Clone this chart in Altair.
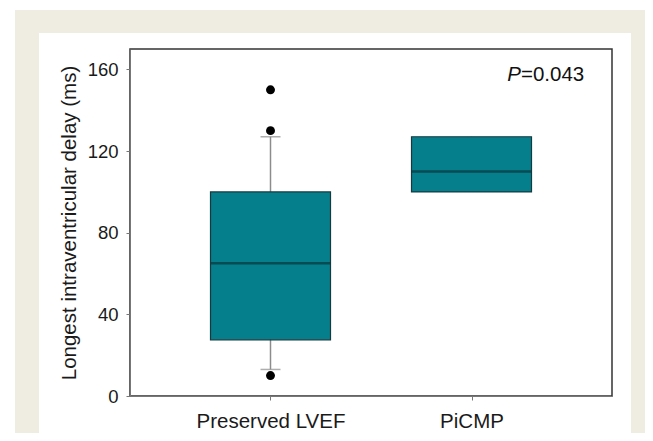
import altair as alt
import pandas as pd

# Data
groups = ["Preserved LVEF", "PiCMP"]
q1 = [27.5, 100]
median = [65, 110]
q3 = [100, 127]
whisker_low = [13, 100]
whisker_high = [127, 127]

outlier_groups = ["Preserved LVEF", "Preserved LVEF", "Preserved LVEF"]
outlier_values = [150, 130, 10]

y_ticks = [0, 40, 80, 120, 160]
p_label = "P"
p_value = "=0.043"

FONT = "Liberation Sans"
W, H = 482, 347
BOX_FILL = "#047f8b"
BOX_STROKE = "#163a40"
MEDIAN = "#0c353b"
WHISK = "#8c8c8c"

box_df = pd.DataFrame({
    "group": groups, "q1": q1, "median": median, "q3": q3,
    "lo": whisker_low, "hi": whisker_high,
})
out_df = pd.DataFrame({"group": outlier_groups, "value": outlier_values})

# caps only where a whisker extends beyond the box
cap_rows = []
for g, lo, hi, a, b in zip(groups, whisker_low, whisker_high, q1, q3):
    if lo < a:
        cap_rows.append({"group": g, "v": lo})
    if hi > b:
        cap_rows.append({"group": g, "v": hi})
cap_df = pd.DataFrame(cap_rows)

xscale = alt.Scale(domain=groups, type="point", padding=0.699)
yscale = alt.Scale(domain=[0, 170], nice=False, zero=True)

x_enc = alt.X("group:N", scale=xscale, sort=groups,
              axis=alt.Axis(title=None, labelFontSize=20.5, labelFont=FONT,
                            labelColor="#1a1a1a", labelPadding=11, tickSize=4,
                            tickColor="#777777", domainColor="#777777",
                            labelAngle=0, grid=False, zindex=1))
y_axis = alt.Axis(title="Longest intraventricular delay (ms)", values=y_ticks,
                  labelFontSize=18.5, labelFont=FONT, labelColor="#1a1a1a",
                  labelPadding=8, tickSize=4, tickColor="#777777",
                  domainColor="#777777", grid=False, titleFont=FONT,
                  titleFontSize=20.5, titleFontWeight="normal", titleColor="#1a1a1a",
                  titlePadding=8, zindex=1)

one = alt.Data(values=[{}])

beige = alt.Chart(one).mark_rect(color="#efede1").encode(
    x=alt.value(-115), x2=alt.value(W + 33), y=alt.value(-39), y2=alt.value(H + 37))
white = alt.Chart(one).mark_rect(color="#ffffff").encode(
    x=alt.value(-91), x2=alt.value(W + 19), y=alt.value(-16), y2=alt.value(H + 37))
plotbg = alt.Chart(one).mark_rect(color="#ffffff", stroke="#333333", strokeWidth=1.5).encode(
    x=alt.value(0), x2=alt.value(W), y=alt.value(0), y2=alt.value(H))

base = alt.Chart(box_df)
whiskers = base.mark_rule(color=WHISK, strokeWidth=1.5).encode(
    x=x_enc, y=alt.Y("lo:Q", scale=yscale, axis=y_axis), y2="hi:Q")
caps = alt.Chart(cap_df).mark_tick(color=WHISK, size=20, thickness=1.5, orient="horizontal").encode(
    x=alt.X("group:N", scale=xscale, sort=groups), y=alt.Y("v:Q", scale=yscale))
boxes = base.mark_bar(size=120, color=BOX_FILL, stroke=BOX_STROKE, strokeWidth=1.2).encode(
    x=alt.X("group:N", scale=xscale, sort=groups), y=alt.Y("q1:Q", scale=yscale), y2="q3:Q")
medians = base.mark_tick(color=MEDIAN, size=120, thickness=2.6, orient="horizontal").encode(
    x=alt.X("group:N", scale=xscale, sort=groups), y=alt.Y("median:Q", scale=yscale))
outliers = alt.Chart(out_df).mark_circle(color="#000000", size=80, opacity=1).encode(
    x=alt.X("group:N", scale=xscale, sort=groups), y=alt.Y("value:Q", scale=yscale))

ptext1 = alt.Chart(alt.Data(values=[{"t": p_label}])).mark_text(
    font=FONT, fontSize=20.5, fontStyle="italic", align="right", baseline="middle",
    color="#111111").encode(x=alt.value(W - 91), y=alt.value(26), text="t:N")
ptext2 = alt.Chart(alt.Data(values=[{"t": p_value}])).mark_text(
    font=FONT, fontSize=20.5, align="left", baseline="middle",
    color="#111111").encode(x=alt.value(W - 91), y=alt.value(26), text="t:N")

chart = alt.layer(beige, white, plotbg, whiskers, caps, boxes, medians, outliers,
                  ptext1, ptext2).properties(
    width=W, height=H,
    autosize=alt.AutoSizeParams(type="none"),
    padding={"left": 122, "top": 41, "right": 33, "bottom": 37},
    background="#ffffff",
).configure_view(stroke=None)

chart.save("out.html", embed_options={"renderer": "svg", "actions": False})
